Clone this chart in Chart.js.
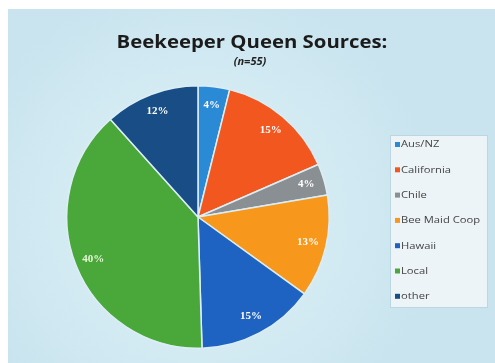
<!DOCTYPE html>
<html>
<head>
<meta charset="utf-8">
<script src="https://cdn.jsdelivr.net/npm/chart.js@4/dist/chart.umd.min.js"></script>
<style>
  html, body { margin: 0; padding: 0; background: #ffffff; overflow: hidden; }
  #wrap { position: relative; width: 495px; height: 363px; }
</style>
</head>
<body>
<div id="wrap"><canvas id="queen-pie" width="495" height="363"></canvas></div>
<script>
(function () {
  "use strict";

  var SOURCES = ["Aus/NZ", "California", "Chile", "Bee Maid Coop", "Hawaii", "Local", "other"];
  var SHARES = [4, 15, 4, 13, 15, 40, 12];
  var COLORS = ["#2b8ad6", "#f2571f", "#8a8f93", "#f7971c", "#1f63c2", "#4aa739", "#184d86"];
  var TITLE = "Beekeeper Queen Sources:";
  var SUBTITLE = "(n=55)";

  // Text on this slide is set a little wide; draw it with a horizontal stretch.
  function wideText(c, text, x, y, sx) {
    c.save();
    c.translate(x, y);
    c.scale(sx, 1);
    c.fillText(text, 0, 0);
    c.restore();
  }

  // Light blue panel behind everything, inset from the white page edge,
  // slightly brighter around the pie.
  var panelPlugin = {
    id: "panel",
    beforeDraw: function (chart) {
      var c = chart.ctx;
      var a = chart.chartArea;
      var cx = (a.left + a.right) / 2, cy = (a.top + a.bottom) / 2;
      c.save();
      c.fillStyle = "#ffffff";
      c.fillRect(0, 0, chart.width, chart.height);
      var g = c.createRadialGradient(cx, cy, 125, cx, cy, 240);
      g.addColorStop(0, "#d4ebf3");
      g.addColorStop(1, "#c9e4ef");
      c.fillStyle = g;
      c.fillRect(8, 9, chart.width - 8, chart.height - 9);
      c.restore();
    }
  };

  // Title block centred over the whole panel.
  var headingPlugin = {
    id: "heading",
    afterDraw: function (chart) {
      var c = chart.ctx;
      c.save();
      c.textAlign = "center";
      c.textBaseline = "middle";
      c.fillStyle = "#1b1b1b";
      c.font = "bold 18px 'Open Sans'";
      wideText(c, TITLE, 252, 43, 1.13);
      c.font = "italic bold 10px 'Open Sans'";
      c.fillStyle = "#222222";
      wideText(c, SUBTITLE, 250, 62, 1.1);
      c.restore();
    }
  };

  // Percent labels placed inside each slice near the rim.
  var sliceLabelPlugin = {
    id: "sliceLabels",
    afterDatasetsDraw: function (chart) {
      var meta = chart.getDatasetMeta(0);
      var c = chart.ctx;
      c.save();
      c.textAlign = "center";
      c.textBaseline = "middle";
      c.font = "bold 10px 'Liberation Serif'";
      meta.data.forEach(function (arc, i) {
        var p = arc.getProps(["x", "y", "startAngle", "endAngle", "outerRadius"], true);
        var mid = (p.startAngle + p.endAngle) / 2;
        var r = p.outerRadius * 0.86;
        c.fillStyle = i === 5 ? "#e6f5d8" : "#ffffff";
        wideText(c, SHARES[i] + "%", p.x + Math.cos(mid) * r, p.y + Math.sin(mid) * r, 1.1);
      });
      c.restore();
    }
  };

  // Boxed legend on the right, one row per source.
  var legendBoxPlugin = {
    id: "legendBox",
    afterDraw: function (chart) {
      var c = chart.ctx;
      var x = 390, y = 135, w = 98, h = 173;
      c.save();
      c.fillStyle = "#ecf4f8";
      c.fillRect(x, y, w, h);
      c.strokeStyle = "#bcd6e3";
      c.lineWidth = 1;
      c.strokeRect(x + 0.5, y + 0.5, w - 1, h - 1);
      c.font = "8.5px 'Open Sans'";
      c.textBaseline = "middle";
      c.textAlign = "left";
      SOURCES.forEach(function (name, i) {
        var rowY = 145 + i * 25.3;
        c.fillStyle = COLORS[i];
        c.fillRect(395, rowY - 3, 5, 5);
        c.fillStyle = "#444444";
        wideText(c, name, 401, rowY, 1.32);
      });
      c.restore();
    }
  };

  var canvas = document.getElementById("queen-pie");
  new Chart(canvas.getContext("2d"), {
    type: "pie",
    plugins: [panelPlugin, sliceLabelPlugin, legendBoxPlugin, headingPlugin],
    data: {
      labels: SOURCES,
      datasets: [{
        data: SHARES,
        backgroundColor: COLORS,
        borderColor: "#dceef5",
        borderWidth: 1.5
      }]
    },
    options: {
      responsive: false,
      animation: false,
      layout: { padding: { top: 85, bottom: 14, left: 66, right: 165 } },
      plugins: {
        legend: { display: false },
        title: { display: false },
        tooltip: { enabled: false }
      }
    }
  });
})();
</script>
</body>
</html>
